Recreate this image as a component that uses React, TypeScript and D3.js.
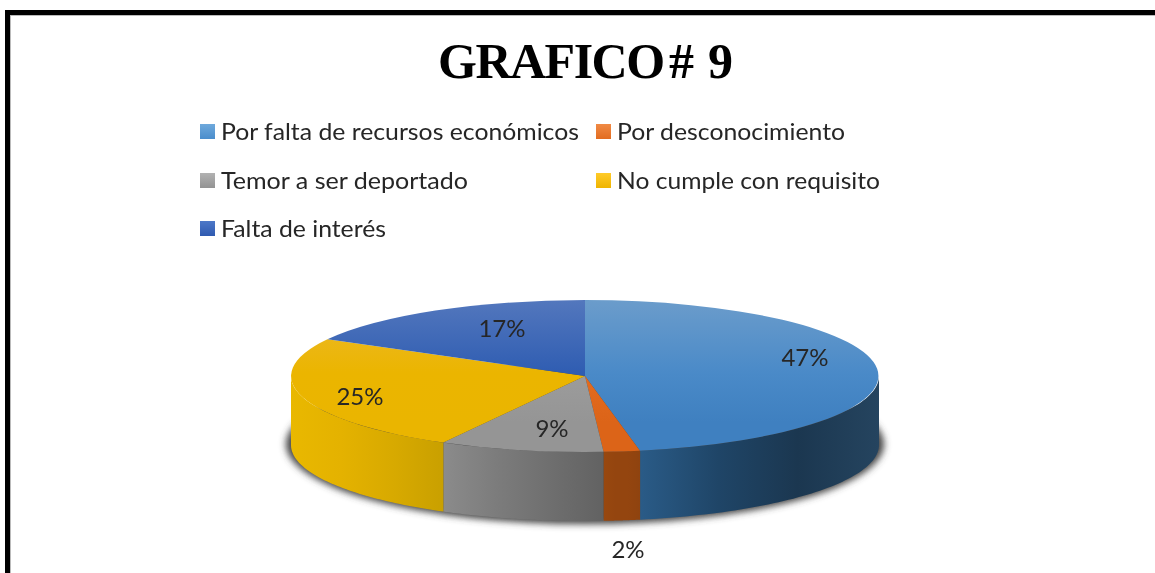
import React from "react";
import * as d3 from "d3";

const categories = [
  "Por falta de recursos económicos",
  "Por desconocimiento",
  "Temor a ser deportado",
  "No cumple con requisito",
  "Falta de interés",
];
const values = [47, 2, 9, 25, 17];
const labels = ["47%", "2%", "9%", "25%", "17%"];
const titleWords = ["GRAFICO", "#", "9"];

const topTones = [
  ["#6b9ccb", "#4a8ac8", "#3f80c0"],
  ["#e8742c", "#e46c20", "#dc6418"],
  ["#a3a3a3", "#9c9c9c", "#959595"],
  ["#ecb930", "#ebb500", "#eab500"],
  ["#5377bd", "#2f5db2", "#2c5ab0"],
];
const wallTones = [
  ["#2a5b87", "#1f4567", "#1b3750", "#25445f"],
  ["#98480f", "#94450f", "#94450f", "#8f430f"],
  ["#8b8b8b", "#7c7c7c", "#6f6f6f", "#626262"],
  ["#e9b800", "#e4b200", "#d8aa00", "#c9a000"],
  ["#2c5ab0", "#2c5ab0", "#2c5ab0", "#2c5ab0"],
];
const swatchTones = [
  ["#6fa9dc", "#4a8dcc"],
  ["#f08a45", "#e26c20"],
  ["#b2b2b2", "#939393"],
  ["#ffcb2a", "#efb400"],
  ["#4d78c8", "#2f5ab0"],
];
const legendX = [200, 596, 200, 596, 200];
const legendTextX = [221, 617, 221, 617, 221];
const legendY = [132, 132, 181, 181, 229];
const legendW = [358, 228, 247, 263, 165];
const labelX = [805, 628, 552, 360, 502];
const labelY = [358, 550, 429, 397, 329];
const titleDx = [0, -7, 1.5];
const titleSpacing = [-1.5, 0, 0];

const W = 1155;
const H = 573;
const cx = 585;
const cy = 376;
const rx = 294;
const ry = 76;
const depth = 69;

const pieGen = d3.pie<number>().sort(null)(values);
const arcGen = d3.arc<d3.PieArcDatum<number>>().innerRadius(0).outerRadius(1);
const pxX = d3.scaleLinear().domain([-1, 1]).range([cx - rx, cx + rx]);
const pxY = d3.scaleLinear().domain([-1, 1]).range([cy - ry, cy + ry]);

function wallPath(a0: number, a1: number): string | null {
  const lo = Math.max(a0, Math.PI / 2);
  const hi = Math.min(a1, (3 * Math.PI) / 2);
  if (hi <= lo) return null;
  const steps = d3.range(0, 61).map((i) => lo + ((hi - lo) * i) / 60);
  const pts: [number, number][] = [
    ...steps.map((a): [number, number] => [pxX(Math.sin(a)), pxY(-Math.cos(a))]),
    ...steps
      .slice()
      .reverse()
      .map((a): [number, number] => [pxX(Math.sin(a)), pxY(-Math.cos(a)) + depth]),
  ];
  return d3.line()(pts) + "Z";
}

export default function App() {
  const sans = "Lato, 'Open Sans', sans-serif";
  return (
    <svg
      width={W}
      height={H}
      viewBox={`0 0 ${W} ${H}`}
      style={{ position: "absolute", left: 0, top: 0, background: "#fff" }}
    >
      <defs>
        <filter id="blur" x="-10%" y="-30%" width="120%" height="160%">
          <feGaussianBlur stdDeviation="3.5" />
        </filter>
        <filter id="soft" x="-5%" y="-20%" width="110%" height="140%">
          <feGaussianBlur stdDeviation="0.55" />
        </filter>
        {pieGen.map((d, i) => (
          <linearGradient key={"t" + i} id={"top" + i} gradientUnits="userSpaceOnUse" x1={0} x2={0} y1={-1} y2={0.6}>
            <stop offset="0" stopColor={topTones[i][0]} />
            <stop offset="0.6" stopColor={topTones[i][1]} />
            <stop offset="1" stopColor={topTones[i][2]} />
          </linearGradient>
        ))}
        {pieGen.map((d, i) => {
          const lo = Math.max(d.startAngle, Math.PI / 2);
          const hi = Math.min(d.endAngle, (3 * Math.PI) / 2);
          const xa = pxX(Math.sin(lo));
          const xb = pxX(Math.sin(hi));
          return (
            <linearGradient
              key={"w" + i}
              id={"wall" + i}
              gradientUnits="userSpaceOnUse"
              x1={Math.min(xa, xb)}
              x2={Math.max(xa, xb)}
              y1={0}
              y2={0}
            >
              {wallTones[i].map((c, k) => (
                <stop key={k} offset={[0, 0.33, 0.66, 1][k]} stopColor={c} />
              ))}
            </linearGradient>
          );
        })}
        {swatchTones.map((t, i) => (
          <linearGradient key={"s" + i} id={"sw" + i} x1={0} x2={0} y1={0} y2={1}>
            <stop offset="0" stopColor={t[0]} />
            <stop offset="1" stopColor={t[1]} />
          </linearGradient>
        ))}
      </defs>

      <rect x={7.5} y={12.5} width={W + 20} height={H + 20} fill="#fff" stroke="#000" strokeWidth={5} />
      <rect x={10.5} y={15.5} width={W} height={H} fill="none" stroke="#bbb" strokeWidth={1} />

      <text x={438} y={78} fontFamily="'Liberation Serif', serif" fontWeight="bold" fontSize={50} fill="#000" filter="url(#soft)">
        {titleWords.map((w, i) => (
          <React.Fragment key={w}>
            <tspan dx={titleDx[i]} letterSpacing={titleSpacing[i]}>
              {w}
            </tspan>
            {i < titleWords.length - 1 ? " " : ""}
          </React.Fragment>
        ))}
      </text>

      {categories.map((c, i) => (
        <g key={c}>
          <rect x={legendX[i]} y={legendY[i] - 8} width={15} height={15} fill={`url(#sw${i})`} />
          <text
            x={legendTextX[i]}
            y={legendY[i] + 8}
            fontFamily={sans}
            fontSize={24}
            textLength={legendW[i]}
            lengthAdjust="spacingAndGlyphs"
            fill="#262626"
            filter="url(#soft)"
          >
            {c}
          </text>
        </g>
      ))}

      <ellipse cx={cx} cy={cy + depth - 1} rx={rx + 5} ry={ry + 4} fill="#444" filter="url(#blur)" />

      {pieGen.map((d, i) => {
        const p = wallPath(d.startAngle, d.endAngle);
        return p ? <path key={"wp" + i} d={p} fill={`url(#wall${i})`} /> : null;
      })}

      {pieGen.map((d, i) => (
        <path
          key={"tp" + i}
          d={arcGen(d) || ""}
          transform={`translate(${cx},${cy}) scale(${rx},${ry})`}
          fill={`url(#top${i})`}
        />
      ))}

      {labels.map((l, i) => (
        <text
          key={l}
          x={labelX[i]}
          y={labelY[i] + 8}
          textAnchor="middle"
          fontFamily={sans}
          fontSize={24}
          fill="#262626"
          filter="url(#soft)"
        >
          {l}
        </text>
      ))}
    </svg>
  );
}
